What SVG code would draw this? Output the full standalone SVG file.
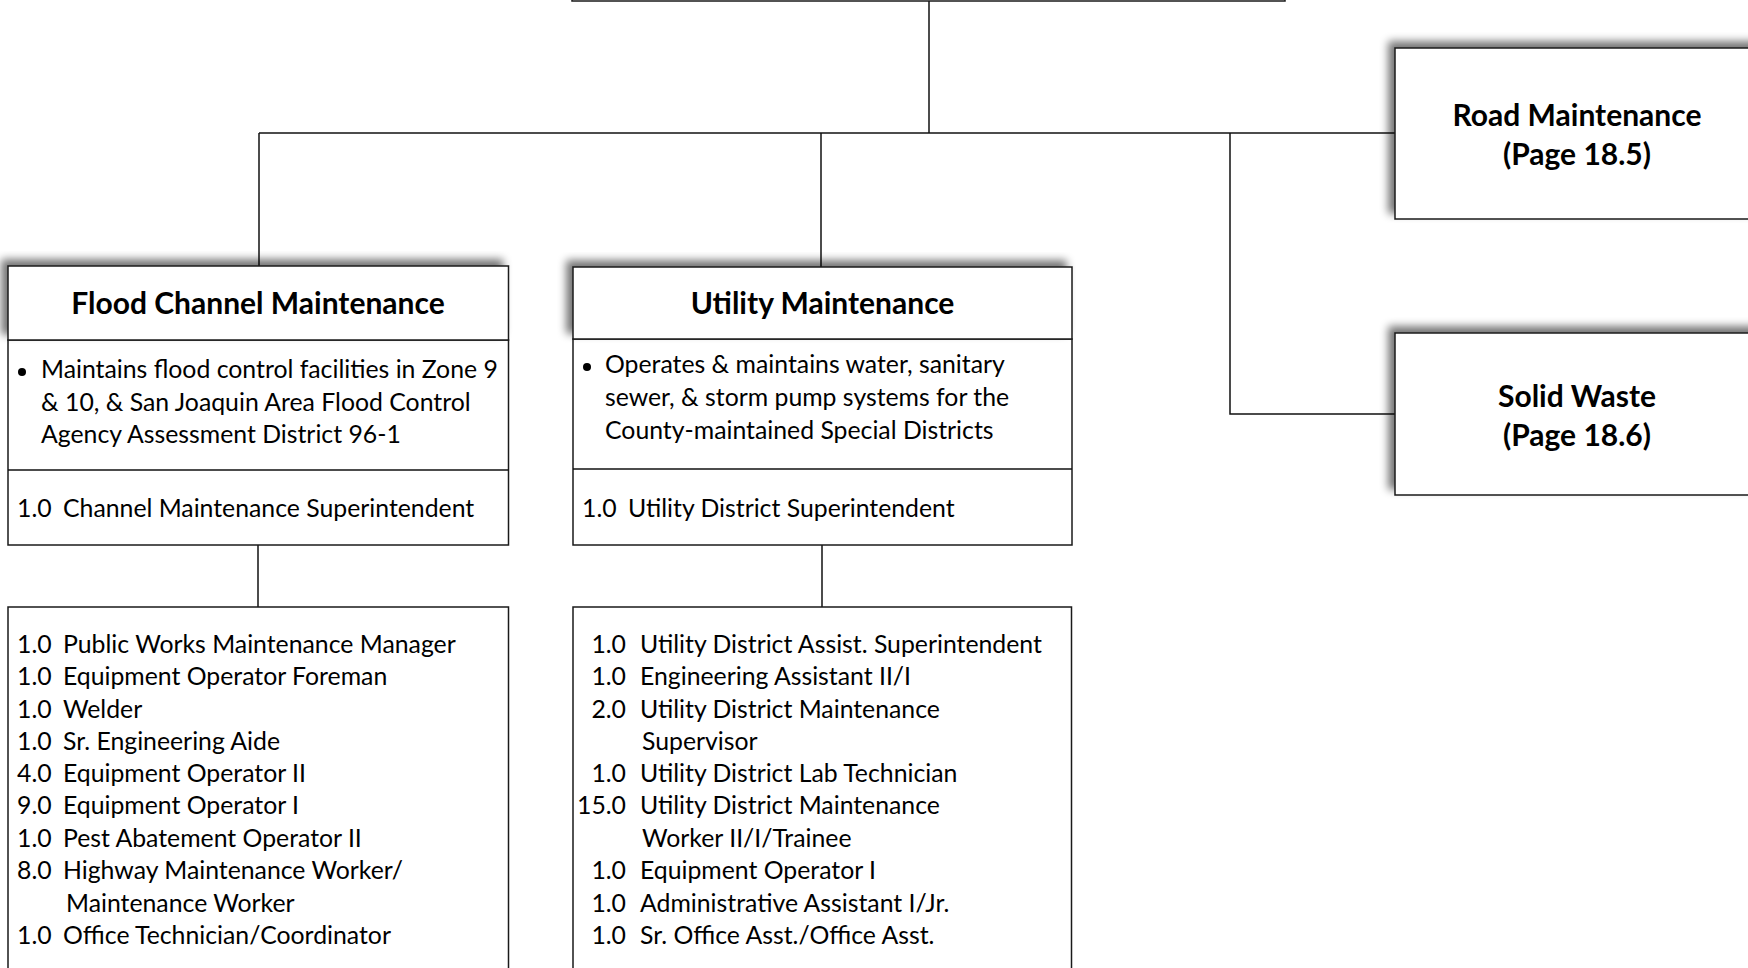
<svg xmlns="http://www.w3.org/2000/svg" width="1748" height="968" viewBox="0 0 1748 968">
<defs>
<filter id="sh" x="-10%" y="-20%" width="125%" height="140%">
<feGaussianBlur in="SourceAlpha" stdDeviation="4"/>
<feOffset dx="-6" dy="-6"/>
<feComponentTransfer><feFuncA type="linear" slope="0.55"/></feComponentTransfer>
<feMerge><feMergeNode/><feMergeNode in="SourceGraphic"/></feMerge>
</filter>
</defs>
<style>
.box{fill:#fff;stroke:#1a1a1a;stroke-width:1.5}
.ln{stroke:#111;stroke-width:1.5;fill:none}
.h{font-family:Lato,"Liberation Sans",sans-serif;font-weight:700;font-size:30px;fill:#000;text-anchor:middle}
.t{font-family:Lato,"Liberation Sans",sans-serif;font-size:24.8px;fill:#000}
.r{text-anchor:end}
</style>
<rect width="1748" height="968" fill="#fff"/>
<g id="connectors">
<path class="ln" d="M929,1 V133"/>
<path class="ln" d="M259,133 H1395"/>
<path class="ln" d="M259,133 V266"/>
<path class="ln" d="M821,133 V267"/>
<path class="ln" d="M1230,133 V414 H1395"/>
<path class="ln" d="M258,545 V607"/>
<path class="ln" d="M822,545 V607"/>
</g>
<g id="top">
<rect class="box" x="572" y="-60" width="713" height="61"/>
</g>
<g id="road">
<rect class="box" x="1395" y="48" width="400" height="171" filter="url(#sh)"/>
<text class="h" x="1577" y="126">Road Maintenance</text>
<text class="h" x="1577" y="165">(Page 18.5)</text>
</g>
<g id="solid">
<rect class="box" x="1395" y="333" width="400" height="162" filter="url(#sh)"/>
<text class="h" x="1577" y="407">Solid Waste</text>
<text class="h" x="1577" y="446">(Page 18.6)</text>
</g>
<g id="flood">
<rect class="box" x="8" y="340" width="500.5" height="205"/>
<line class="ln" x1="8" y1="470" x2="508.5" y2="470"/>
<rect class="box" x="8" y="266" width="500.5" height="74" filter="url(#sh)"/>
<text class="h" x="258" y="314">Flood Channel Maintenance</text>
<circle cx="22" cy="372" r="4" fill="#000"/>
<text class="t" x="41" y="378">Maintains flood control facilities in Zone 9</text>
<text class="t" x="41" y="410.5">&amp; 10, &amp; San Joaquin Area Flood Control</text>
<text class="t" x="41" y="443">Agency Assessment District 96-1</text>
<text class="t" x="17" y="517">1.0</text><text class="t" x="63" y="517">Channel Maintenance Superintendent</text>
</g>
<g id="utility">
<rect class="box" x="573" y="339" width="499" height="206"/>
<line class="ln" x1="573" y1="469" x2="1072" y2="469"/>
<rect class="box" x="573" y="267" width="499" height="72" filter="url(#sh)"/>
<text class="h" x="822.5" y="314">Utility Maintenance</text>
<circle cx="587" cy="367" r="4" fill="#000"/>
<text class="t" x="605" y="373">Operates &amp; maintains water, sanitary</text>
<text class="t" x="605" y="406">sewer, &amp; storm pump systems for the</text>
<text class="t" x="605" y="439">County-maintained Special Districts</text>
<text class="t" x="582" y="517">1.0</text><text class="t" x="628" y="517">Utility District Superintendent</text>
</g>
<g id="flood-staff">
<rect class="box" x="8" y="607" width="500.5" height="380"/>
<text class="t" x="17" y="653">1.0</text><text class="t" x="63" y="653">Public Works Maintenance Manager</text>
<text class="t" x="17" y="685">1.0</text><text class="t" x="63" y="685">Equipment Operator Foreman</text>
<text class="t" x="17" y="717.5">1.0</text><text class="t" x="63" y="717.5">Welder</text>
<text class="t" x="17" y="749.5">1.0</text><text class="t" x="63" y="749.5">Sr. Engineering Aide</text>
<text class="t" x="17" y="782">4.0</text><text class="t" x="63" y="782">Equipment Operator II</text>
<text class="t" x="17" y="814">9.0</text><text class="t" x="63" y="814">Equipment Operator I</text>
<text class="t" x="17" y="847">1.0</text><text class="t" x="63" y="847">Pest Abatement Operator II</text>
<text class="t" x="17" y="879">8.0</text><text class="t" x="63" y="879">Highway Maintenance Worker/</text>
<text class="t" x="66" y="912">Maintenance Worker</text>
<text class="t" x="17" y="944">1.0</text><text class="t" x="63" y="944">Office Technician/Coordinator</text>
</g>
<g id="utility-staff">
<rect class="box" x="573" y="607" width="498.5" height="380"/>
<text class="t r" x="626" y="653">1.0</text><text class="t" x="640" y="653">Utility District Assist. Superintendent</text>
<text class="t r" x="626" y="685">1.0</text><text class="t" x="640" y="685">Engineering Assistant II/I</text>
<text class="t r" x="626" y="717.5">2.0</text><text class="t" x="640" y="717.5">Utility District Maintenance</text>
<text class="t" x="642" y="749.5">Supervisor</text>
<text class="t r" x="626" y="782">1.0</text><text class="t" x="640" y="782">Utility District Lab Technician</text>
<text class="t r" x="626" y="814">15.0</text><text class="t" x="640" y="814">Utility District Maintenance</text>
<text class="t" x="642" y="847">Worker II/I/Trainee</text>
<text class="t r" x="626" y="879">1.0</text><text class="t" x="640" y="879">Equipment Operator I</text>
<text class="t r" x="626" y="912">1.0</text><text class="t" x="640" y="912">Administrative Assistant I/Jr.</text>
<text class="t r" x="626" y="944">1.0</text><text class="t" x="640" y="944">Sr. Office Asst./Office Asst.</text>
</g>
</svg>
